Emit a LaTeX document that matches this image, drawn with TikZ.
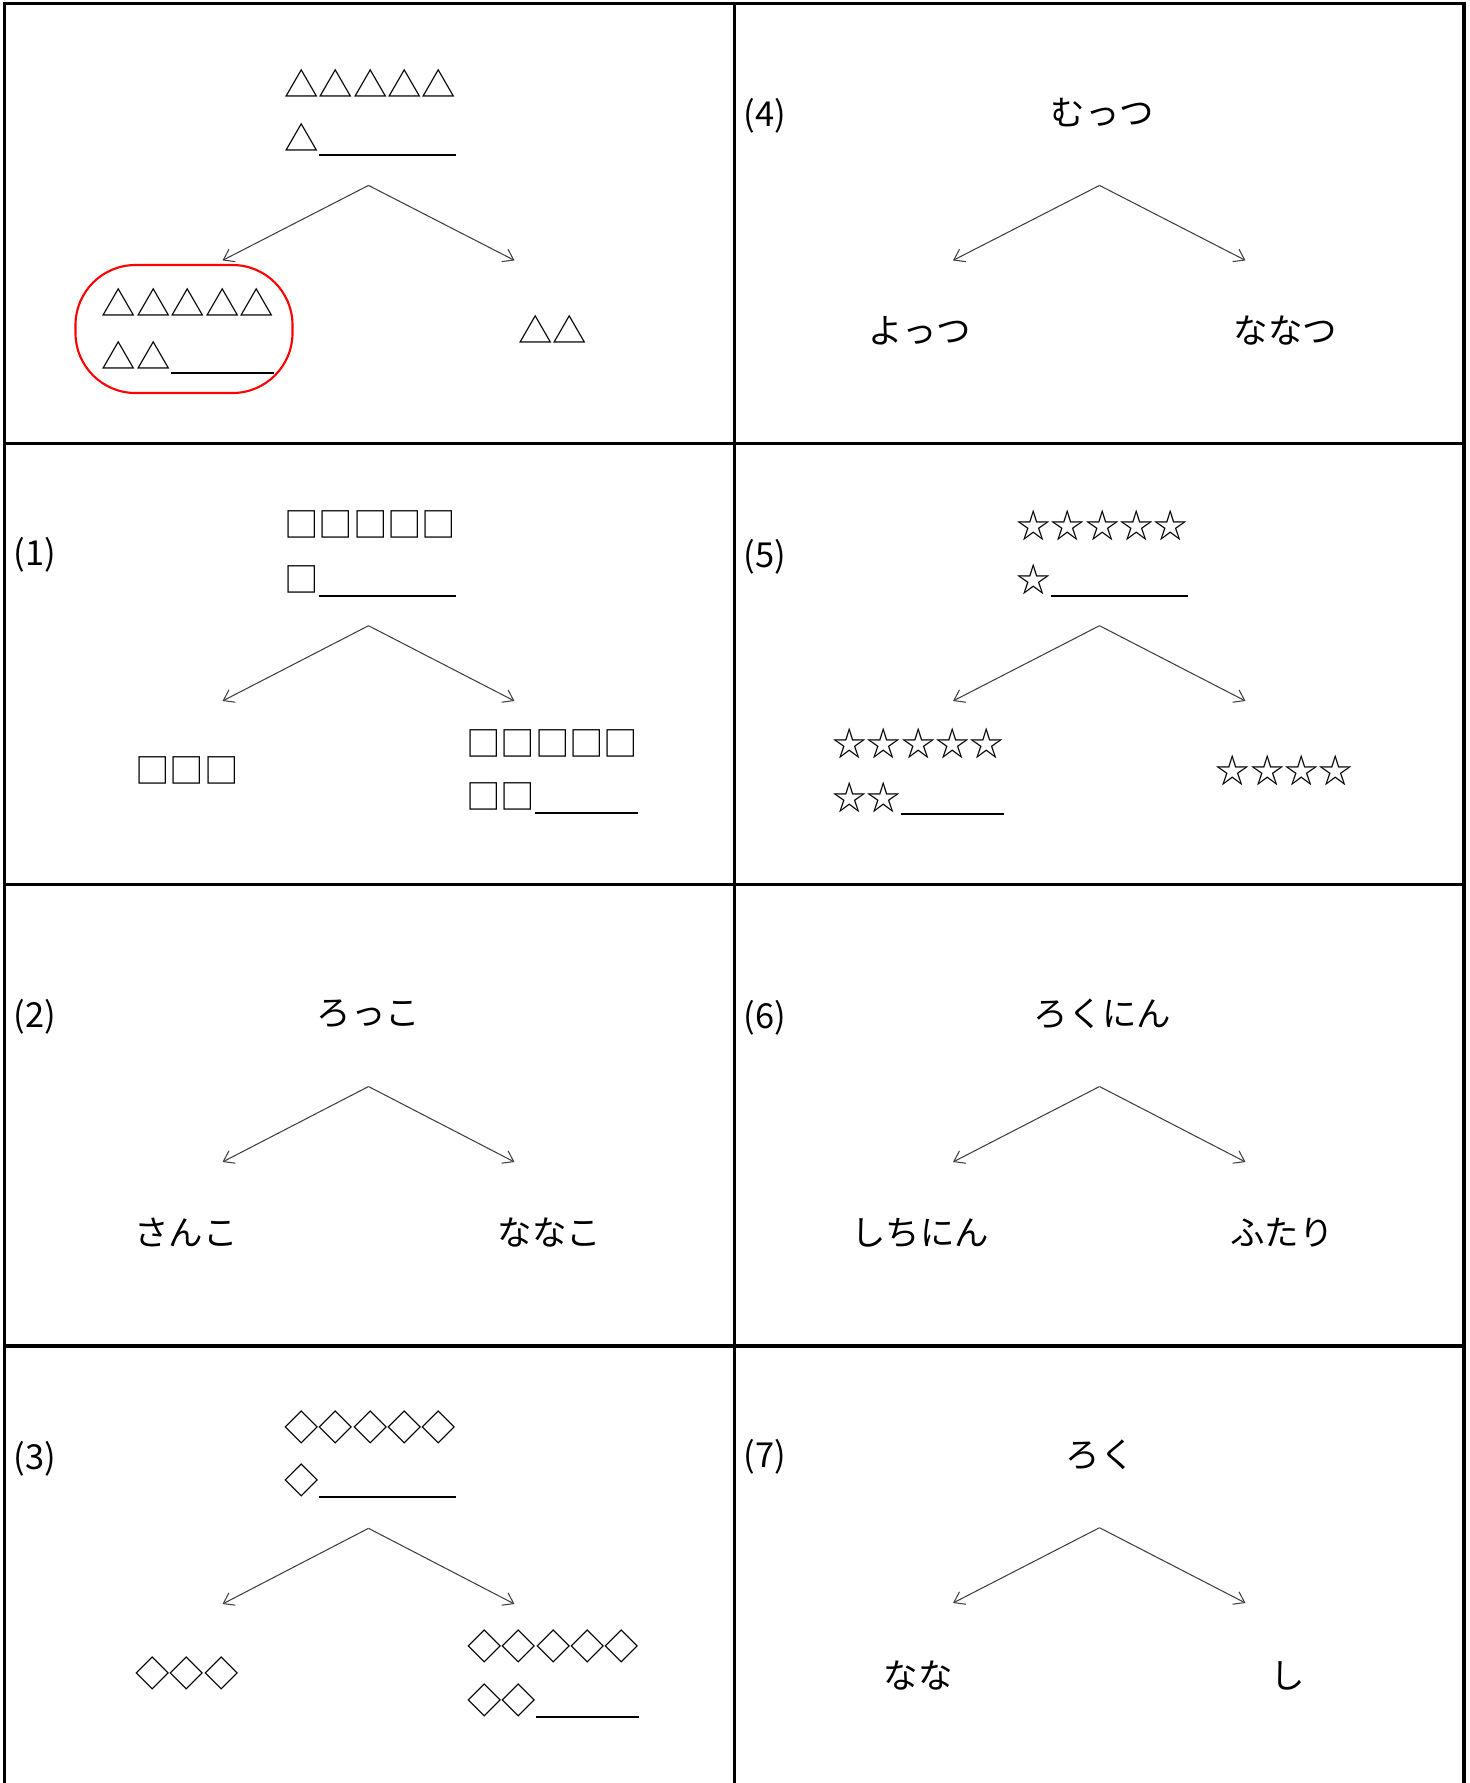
\documentclass[tikz,border=0pt]{standalone}
\usepackage{fontspec}
\setmainfont{Noto Sans CJK JP}
\usetikzlibrary{arrows.meta}
% answer line after the symbols
\newcommand{\ansline}[1]{\rule[-0.13em]{#1em}{0.06em}}
\begin{document}
\begin{tikzpicture}[
  grid/.style={line width=1pt},
  branch/.style={-{Straight Barb[length=1mm,width=1.4mm]}, line width=0.3pt, black!75},
  txt/.style={inner sep=0pt, text height=0.84em, text depth=0.08em,
    font=\fontsize{9.8pt}{12pt}\selectfont},
  num/.style={txt, anchor=west}]
\useasboundingbox (0,0) rectangle (14.70,-17.83);
% table
\draw[grid] (0.045,-17.83) -- (0.045,-0.034) -- (14.64,-0.034) -- (14.64,-17.83);
\draw[grid] (7.345,-0.034) -- (7.345,-17.83);
\draw[grid] (0.045,-4.434) -- (14.64,-4.434);
\draw[grid] (0.045,-8.845) -- (14.64,-8.845);
\draw[grid] (0.045,-13.46) -- (14.64,-13.46);

% example
\begin{scope}[shift={(0.045,-0.034)}]
\node[txt, anchor=west] (t0a) at (2.79,-0.81) {△△△△△};
\node[txt, anchor=west] (t0b) at (2.79,-1.35) {△\ansline{4}};
\coordinate (a0) at (3.64,-1.82);
\coordinate (b0) at (2.18,-2.57);
\coordinate (c0) at (5.10,-2.57);
\draw[branch] (a0) -- (b0);
\draw[branch] (a0) -- (c0);
\node[txt, anchor=west] (l0a) at (0.966,-3.00) {△△△△△};
\node[txt, anchor=west] (l0b) at (0.966,-3.53) {△△\ansline{3}};
\draw[red, line width=0.6pt, rounded corners=0.6cm] (0.71,-2.616) rectangle (2.88,-3.896);
\node[txt] (r0) at (5.48,-3.27) {△△};
\end{scope}

% (1)
\begin{scope}[shift={(0.045,-4.434)}]
\node[num] (n1) at (0.085,-1.09) {(1)};
\node[txt, anchor=west] (t1a) at (2.79,-0.81) {□□□□□};
\node[txt, anchor=west] (t1b) at (2.79,-1.356) {□\ansline{4}};
\coordinate (a1) at (3.64,-1.823);
\coordinate (b1) at (2.18,-2.576);
\coordinate (c1) at (5.10,-2.576);
\draw[branch] (a1) -- (b1);
\draw[branch] (a1) -- (c1);
\node[txt] (l1) at (1.825,-3.266) {□□□};
\node[txt, anchor=west] (r1a) at (4.61,-2.996) {□□□□□};
\node[txt, anchor=west] (r1b) at (4.61,-3.53) {□□\ansline{3}};
\end{scope}

% (2)
\begin{scope}[shift={(0.045,-8.845)}]
\node[num] (n2) at (0.085,-1.295) {(2)};
\node[txt] (t2) at (3.64,-1.275) {ろっこ};
\coordinate (a2) at (3.64,-2.02);
\coordinate (b2) at (2.18,-2.775);
\coordinate (c2) at (5.10,-2.775);
\draw[branch] (a2) -- (b2);
\draw[branch] (a2) -- (c2);
\node[txt] (l2) at (1.815,-3.472) {さんこ};
\node[txt] (r2) at (5.45,-3.472) {ななこ};
\end{scope}

% (3)
\begin{scope}[shift={(0.045,-13.46)}]
\node[num] (n3) at (0.085,-1.10) {(3)};
\node[txt, anchor=west] (t3a) at (2.79,-0.807) {◇◇◇◇◇};
\node[txt, anchor=west] (t3b) at (2.79,-1.343) {◇\ansline{4}};
\coordinate (a3) at (3.64,-1.823);
\coordinate (b3) at (2.18,-2.58);
\coordinate (c3) at (5.10,-2.58);
\draw[branch] (a3) -- (b3);
\draw[branch] (a3) -- (c3);
\node[txt] (l3) at (1.825,-3.27) {◇◇◇};
\node[txt, anchor=west] (r3a) at (4.62,-3.00) {◇◇◇◇◇};
\node[txt, anchor=west] (r3b) at (4.62,-3.54) {◇◇\ansline{3}};
\end{scope}

% (4)
\begin{scope}[shift={(7.345,-0.034)}]
\node[num] (n4) at (0.085,-1.10) {(4)};
\node[txt] (t4) at (3.68,-1.09) {むっつ};
\coordinate (a4) at (3.65,-1.82);
\coordinate (b4) at (2.185,-2.57);
\coordinate (c4) at (5.11,-2.57);
\draw[branch] (a4) -- (b4);
\draw[branch] (a4) -- (c4);
\node[txt] (l4) at (1.855,-3.27) {よっつ};
\node[txt] (r4) at (5.51,-3.27) {ななつ};
\end{scope}

% (5)
\begin{scope}[shift={(7.345,-4.434)}]
\node[num] (n5) at (0.085,-1.106) {(5)};
\node[txt, anchor=west] (t5a) at (2.81,-0.816) {☆☆☆☆☆};
\node[txt, anchor=west] (t5b) at (2.81,-1.36) {☆\ansline{4}};
\coordinate (a5) at (3.65,-1.823);
\coordinate (b5) at (2.185,-2.576);
\coordinate (c5) at (5.11,-2.576);
\draw[branch] (a5) -- (b5);
\draw[branch] (a5) -- (c5);
\node[txt, anchor=west] (l5a) at (0.97,-3.00) {☆☆☆☆☆};
\node[txt, anchor=west] (l5b) at (0.97,-3.54) {☆☆\ansline{3}};
\node[txt] (r5) at (5.50,-3.27) {☆☆☆☆};
\end{scope}

% (6)
\begin{scope}[shift={(7.345,-8.845)}]
\node[num] (n6) at (0.085,-1.305) {(6)};
\node[txt] (t6) at (3.68,-1.285) {ろくにん};
\coordinate (a6) at (3.65,-2.02);
\coordinate (b6) at (2.185,-2.775);
\coordinate (c6) at (5.11,-2.775);
\draw[branch] (a6) -- (b6);
\draw[branch] (a6) -- (c6);
\node[txt] (l6) at (1.858,-3.475) {しちにん};
\node[txt] (r6) at (5.476,-3.475) {ふたり};
\end{scope}

% (7)
\begin{scope}[shift={(7.345,-13.46)}]
\node[num] (n7) at (0.085,-1.08) {(7)};
\node[txt] (t7) at (3.655,-1.08) {ろく};
\coordinate (a7) at (3.65,-1.817);
\coordinate (b7) at (2.185,-2.57);
\coordinate (c7) at (5.11,-2.57);
\draw[branch] (a7) -- (b7);
\draw[branch] (a7) -- (c7);
\node[txt] (l7) at (1.835,-3.29) {なな};
\node[txt] (r7) at (5.53,-3.29) {し};
\end{scope}
\end{tikzpicture}
\end{document}
